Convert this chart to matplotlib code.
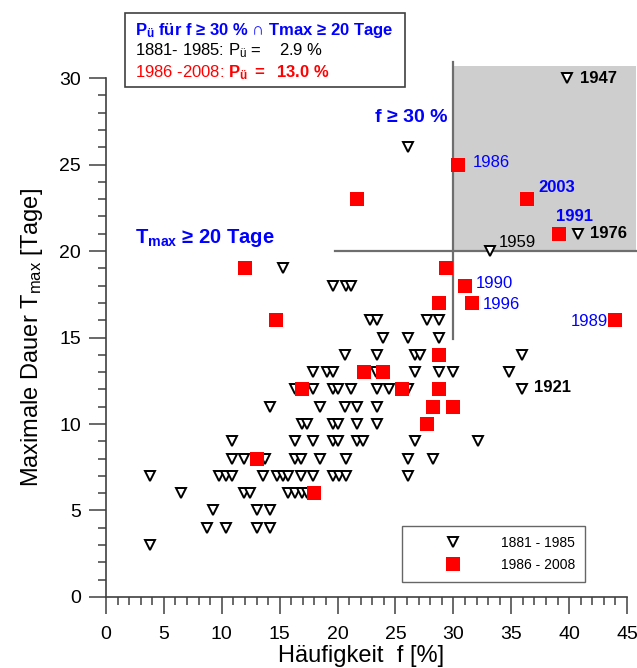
import numpy as np
import matplotlib
matplotlib.use('Agg')
import matplotlib.pyplot as plt
from matplotlib.patches import Rectangle
from matplotlib.ticker import MultipleLocator

plt.rcParams['font.family'] = ['Liberation Sans', 'DejaVu Sans']
plt.rcParams['mathtext.fontset'] = 'custom'
plt.rcParams['mathtext.rm'] = 'Liberation Sans'
plt.rcParams['mathtext.it'] = 'Liberation Sans'
plt.rcParams['mathtext.bf'] = 'Liberation Sans:bold'

# 1881 - 1985 (open triangles): frequency f [%] and max duration Tmax [days]
old_f = [3.8,
         8.7, 10.4, 13.0, 14.2,
         9.2, 13.0, 14.2,
         6.5, 11.9, 12.4, 15.7, 16.3, 16.9, 17.4,
         3.8, 9.8, 10.4, 10.9, 13.6, 14.8, 15.3, 15.7, 16.8, 17.9, 19.6, 20.1, 20.7, 26.1,
         10.9, 11.9, 13.7, 16.3, 16.8, 18.5, 20.7, 26.1, 28.2,
         10.9, 16.3, 17.9, 19.6, 20.0, 21.7, 22.2, 26.7, 32.1,
         16.9, 17.4, 19.6, 20.0, 21.7, 23.4,
         14.2, 18.5, 20.6, 21.7, 23.4,
         16.3, 17.9, 19.6, 20.0, 21.2, 23.4, 24.4, 26.1, 35.9,
         17.9, 19.1, 19.6, 23.3, 26.7, 28.8, 30.0, 34.8,
         20.6, 23.4, 26.7, 27.1, 35.9,
         23.9, 26.1, 28.8,
         22.8, 23.4, 27.7, 28.8,
         19.6, 20.7, 21.2,
         15.3, 33.2, 40.8, 26.1, 39.8]
old_t = [3,
         4, 4, 4, 4,
         5, 5, 5,
         6, 6, 6, 6, 6, 6, 6,
         7, 7, 7, 7, 7, 7, 7, 7, 7, 7, 7, 7, 7, 7,
         8, 8, 8, 8, 8, 8, 8, 8, 8,
         9, 9, 9, 9, 9, 9, 9, 9, 9,
         10, 10, 10, 10, 10, 10,
         11, 11, 11, 11, 11,
         12, 12, 12, 12, 12, 12, 12, 12, 12,
         13, 13, 13, 13, 13, 13, 13, 13,
         14, 14, 14, 14, 14,
         15, 15, 15,
         16, 16, 16, 16,
         18, 18, 18,
         19, 20, 21, 26, 30]

# 1986 - 2008 (red squares)
new_f = [30.4, 21.7, 36.4, 39.1, 12.0, 29.4, 31.0, 28.8, 31.6, 14.7, 44.0,
         28.8, 22.3, 23.9, 16.9, 25.6, 28.8, 28.2, 30.0, 27.7, 13.0, 18.0]
new_t = [25, 23, 23, 21, 19, 19, 18, 17, 17, 16, 16,
         14, 13, 13, 12, 12, 12, 11, 11, 10, 8, 6]

# year annotations
years = ['1947', '1986', '2003', '1991', '1976', '1959', '1990', '1996', '1989', '1921']
year_x = [40.9, 31.7, 37.3, 38.9, 41.8, 33.9, 31.9, 32.5, 43.35, 37.0]
year_y = [29.95, 25.1, 23.7, 22.0, 21.0, 20.5, 18.1, 16.9, 15.9, 12.1]
year_col = ['black', 'blue', 'blue', 'blue', 'black', 'black', 'blue', 'blue', 'blue', 'black']
year_bold = [True, False, True, True, True, False, False, False, False, True]

fig = plt.figure(figsize=(6.37, 6.68), dpi=100)
ax = fig.add_axes([0.1664, 0.1063, 0.818, 0.7769])

# grey region f >= 30 %, Tmax >= 20
ax.add_patch(Rectangle((30, 20), 15.8, 10.7, facecolor='#cecece', edgecolor='none',
                       clip_on=False, zorder=0))
ax.plot([19.8, 45.8], [20, 20], color='#6e6e6e', lw=1.6, clip_on=False, zorder=1)
ax.plot([30, 30], [14.9, 30.9], color='#6e6e6e', lw=1.6, clip_on=False, zorder=1)

ax.plot(old_f, old_t, linestyle='none', marker='v', markersize=6.5, markerfacecolor='white',
        markeredgecolor='black', markeredgewidth=1.4, label='1881 - 1985', zorder=3,
        clip_on=False)
ax.plot(new_f, new_t, linestyle='none', marker='s', markersize=9.5, color='#ff0000',
        markeredgewidth=0, label='1986 - 2008', zorder=4, clip_on=False)

for y, xx, yy, c, b in zip(years, year_x, year_y, year_col, year_bold):
    ha = 'right' if y == '1989' else 'left'
    ax.text(xx, yy, y, color=c, fontsize=12, fontweight='bold' if b else 'normal',
            ha=ha, va='center', clip_on=False)

ax.text(26.4, 27.7, 'f ≥ 30 %', color='blue', fontsize=14, fontweight='bold',
        ha='center', va='center')
ax.text(2.5, 20.75, r'T$_{\mathbf{max}}$ ≥ 20 Tage', color='blue', fontsize=14.5,
        fontweight='bold', ha='left', va='center')

ax.set_xlim(0, 45)
ax.set_ylim(0, 30)
ax.spines['top'].set_visible(False)
ax.spines['right'].set_visible(False)
for s in ['left', 'bottom']:
    ax.spines[s].set_color('#404040')
    ax.spines[s].set_linewidth(1.2)
ax.xaxis.set_major_locator(MultipleLocator(5))
ax.xaxis.set_minor_locator(MultipleLocator(1))
ax.yaxis.set_major_locator(MultipleLocator(5))
ax.yaxis.set_minor_locator(MultipleLocator(1))
ax.tick_params(which='major', direction='out', length=12, width=1.1, color='#404040',
               labelsize=14)
ax.tick_params(which='minor', direction='out', length=6, width=1.1, color='#404040')
ax.tick_params(axis='x', which='major', pad=9)
ax.tick_params(axis='y', which='major', pad=6)

ax.set_xlabel('Häufigkeit  f [%]', fontsize=17)
ax.xaxis.set_label_coords(0.49, -0.114, transform=ax.transAxes)
ax.xaxis.label.set_va('center')
ax.set_ylabel(r'Maximale Dauer T$_{\mathrm{max}}$ [Tage]', fontsize=17, labelpad=10)

leg = ax.legend(loc='lower left', bbox_to_anchor=(0.568, 0.029), fontsize=10,
                frameon=True, fancybox=False, edgecolor='#404040', handletextpad=0.4,
                borderpad=0.7, labelspacing=0.6, handlelength=6.0, borderaxespad=0)
leg.get_frame().set_linewidth(1.0)

# info box at the top
fig.patches.append(Rectangle((0.196, 0.8698), 0.4396, 0.1108, transform=fig.transFigure,
                             facecolor='white', edgecolor='#404040', lw=1.2))
fig.text(0.212, 0.955, r'P$_{\mathbf{ü}}$ für f ≥ 30 % ∩ Tmax ≥ 20 Tage', color='blue',
         fontsize=12, fontweight='bold', va='center')
fig.text(0.212, 0.9237, r'1881- 1985: P$_{\mathrm{ü}}$ =    2.9 %', color='black',
         fontsize=12, va='center')
fig.text(0.212, 0.8907, r'1986 -2008: $\mathbf{P_{ü}\ =\ \ 13.0\ \%}$', color='red',
         fontsize=12, va='center')

fig.savefig('out.png', dpi=100)
